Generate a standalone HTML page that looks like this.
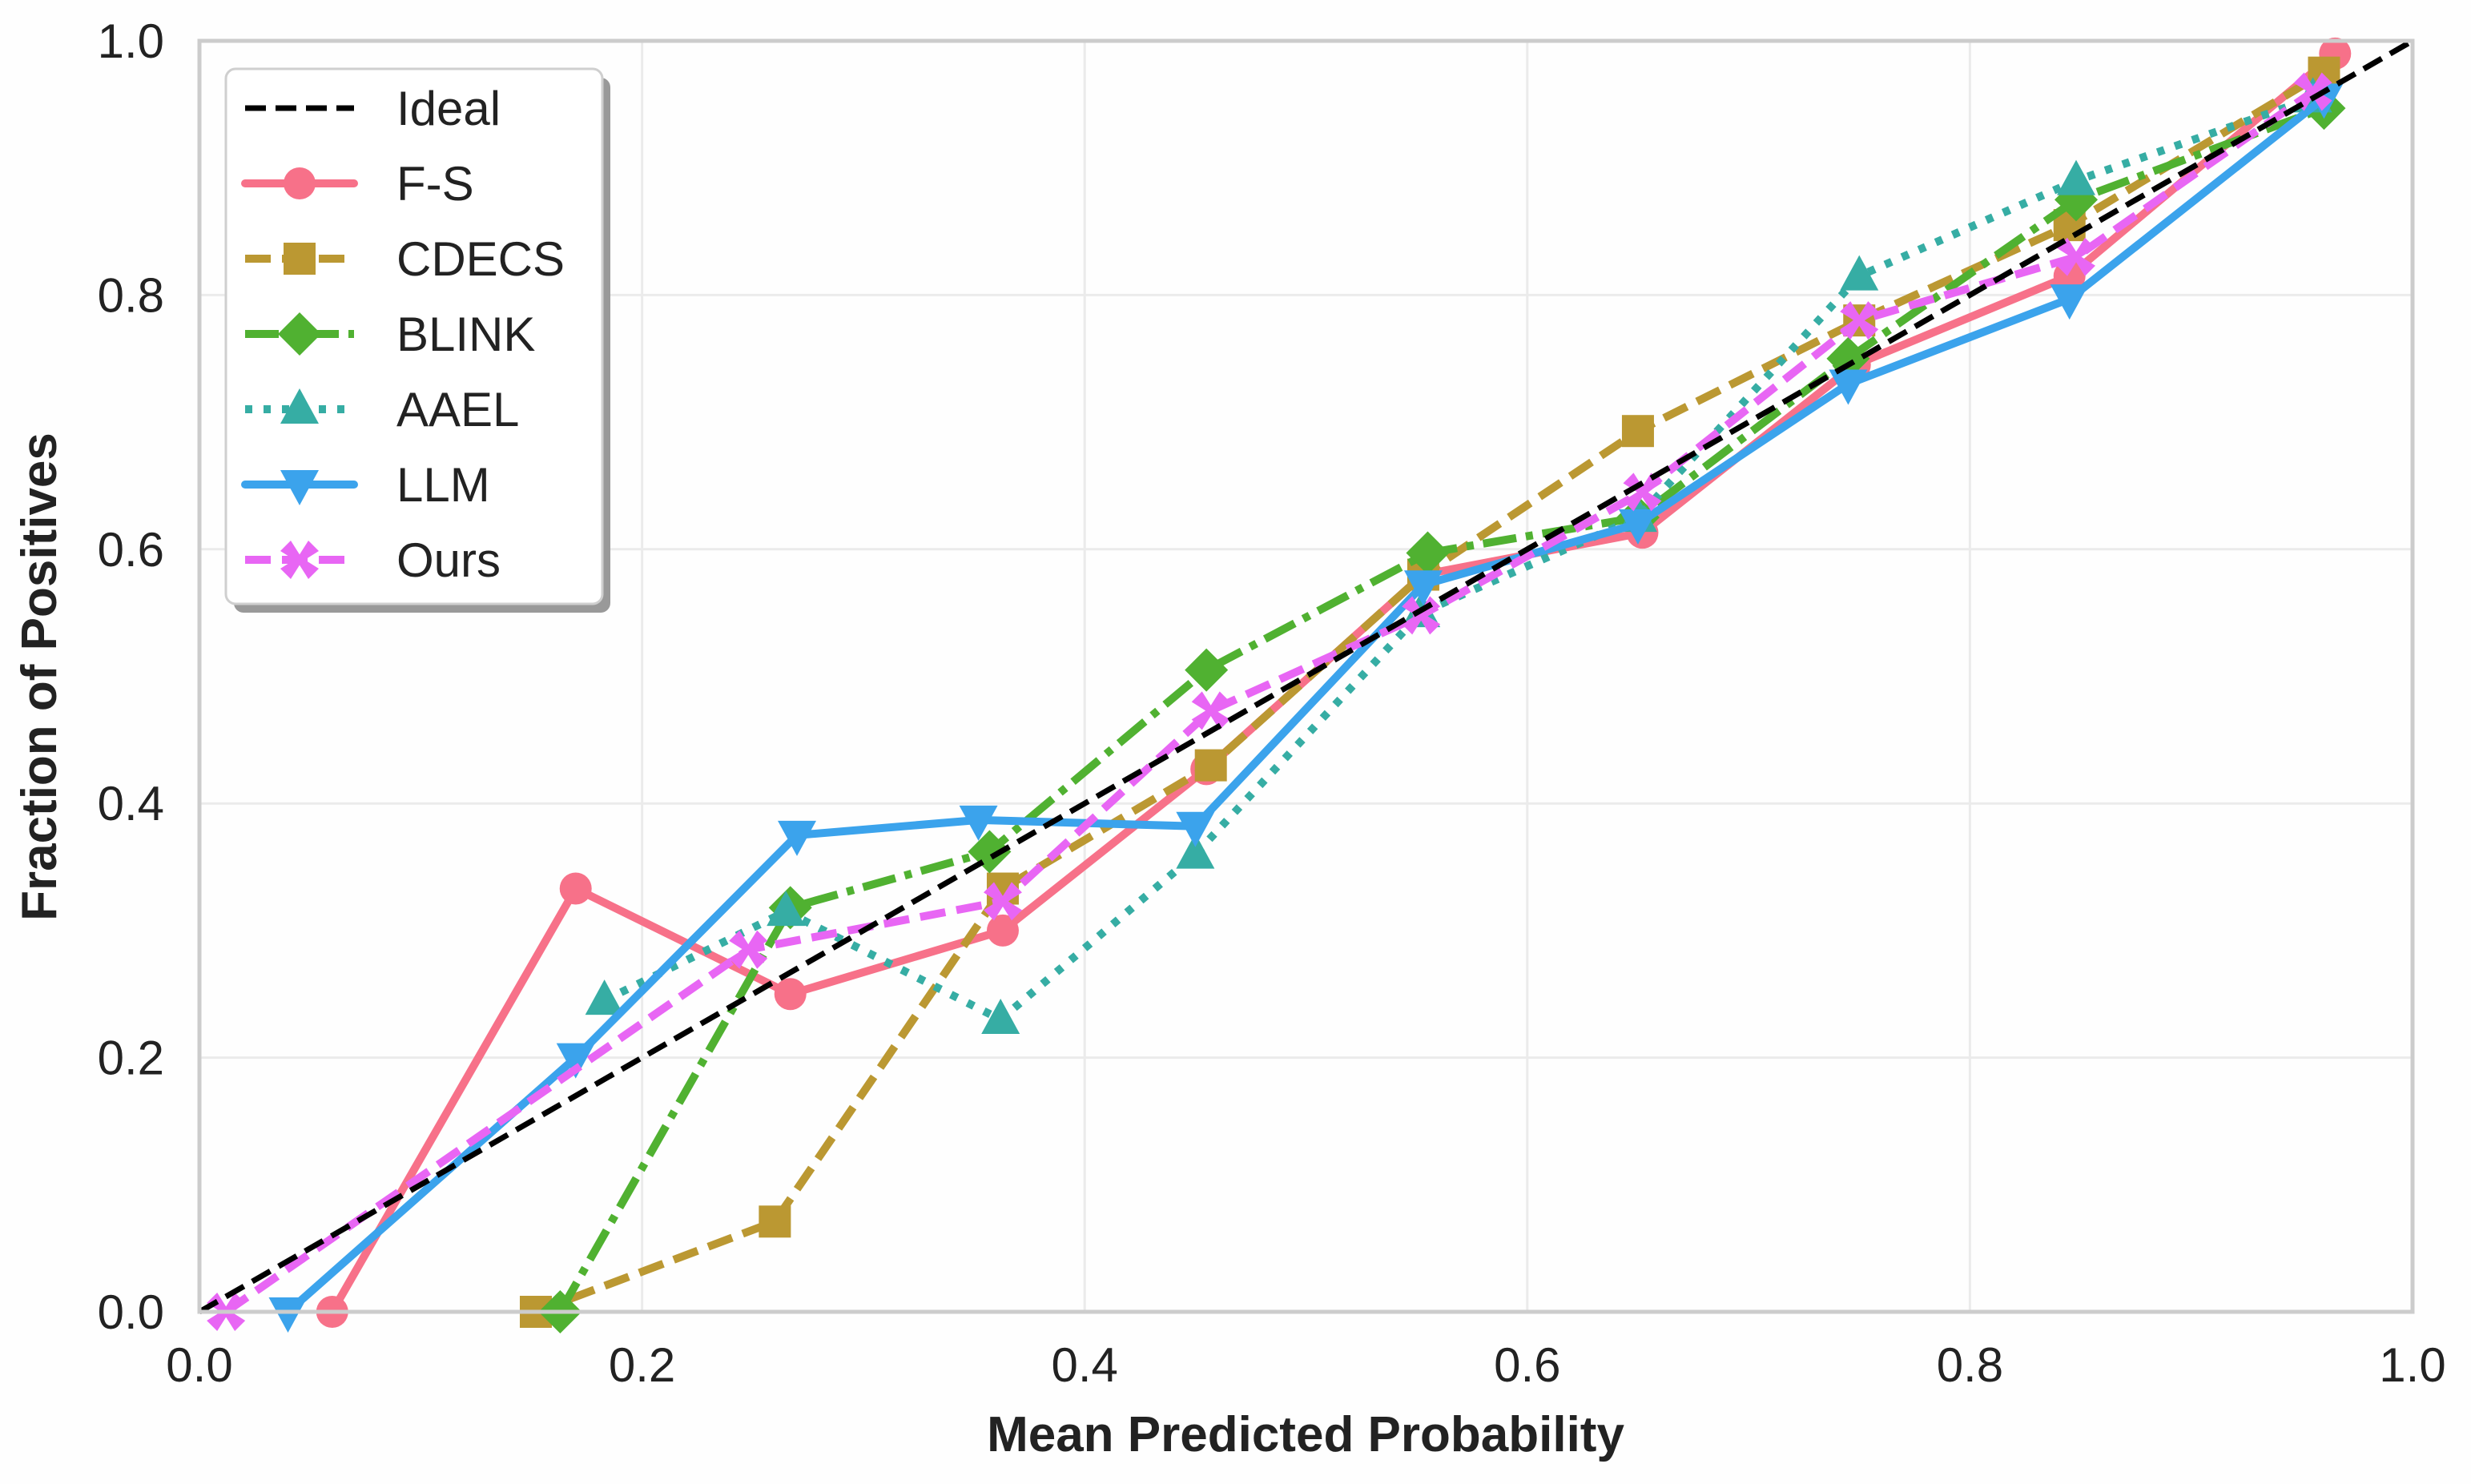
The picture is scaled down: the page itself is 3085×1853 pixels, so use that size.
<!DOCTYPE html>
<html><head><meta charset="utf-8">
<style>
html,body{margin:0;padding:0;background:#fefefe;}
svg{display:block;font-family:"Liberation Sans",Arial,sans-serif;}
</style></head>
<body>
<svg id="chart" width="3085" height="1853" viewBox="0 0 3085 1853" xmlns="http://www.w3.org/2000/svg">
<rect x="0" y="0" width="3085" height="1853" fill="#fefefe"/>
<g id="grid"></g>
<g id="series"></g>
<rect x="249" y="51" width="2763" height="1587" fill="none" stroke="#cccccc" stroke-width="5"/>
<g id="ticks"></g>
<text x="1630" y="1812" font-size="62" font-weight="bold" text-anchor="middle" fill="#222">Mean Predicted Probability</text>
<text transform="translate(70,845) rotate(-90)" font-size="62" font-weight="bold" text-anchor="middle" fill="#222">Fraction of Positives</text>
<g id="legend"></g>
</svg>
<script>
const ticks = [0, 0.2, 0.4, 0.6, 0.8, 1.0];
const tickLabels = ["0.0", "0.2", "0.4", "0.6", "0.8", "1.0"];
const idealX = [0, 1];
const idealY = [0, 1];
const fsX = [0.06, 0.17, 0.267, 0.363, 0.455, 0.553, 0.652, 0.748, 0.845, 0.965];
const fsY = [0, 0.333, 0.25, 0.30, 0.427, 0.58, 0.613, 0.745, 0.815, 0.99];
const cdecsX = [0.152, 0.26, 0.363, 0.457, 0.553, 0.65, 0.75, 0.845, 0.96];
const cdecsY = [0, 0.071, 0.333, 0.43, 0.58, 0.693, 0.78, 0.855, 0.975];
const blinkX = [0.163, 0.267, 0.357, 0.455, 0.555, 0.65, 0.745, 0.848, 0.96];
const blinkY = [0, 0.318, 0.362, 0.505, 0.597, 0.625, 0.75, 0.875, 0.947];
const aaelX = [0.183, 0.265, 0.362, 0.45, 0.552, 0.65, 0.75, 0.848, 0.955];
const aaelY = [0.245, 0.315, 0.23, 0.36, 0.55, 0.625, 0.815, 0.89, 0.955];
const llmX = [0.04, 0.17, 0.27, 0.352, 0.45, 0.553, 0.65, 0.745, 0.845, 0.96];
const llmY = [0, 0.2, 0.375, 0.387, 0.382, 0.572, 0.62, 0.73, 0.797, 0.955];
const oursX = [0.012, 0.248, 0.363, 0.457, 0.552, 0.652, 0.75, 0.848, 0.955];
const oursY = [0, 0.285, 0.323, 0.473, 0.548, 0.645, 0.78, 0.83, 0.96];

const L=249,R=3012,T=51,B=1638;
const sx=v=>L+v*(R-L), sy=v=>B-v*(B-T);
const NS="http://www.w3.org/2000/svg";
function mk(tag,attrs,parent){const e=document.createElementNS(NS,tag);for(const k in attrs)e.setAttribute(k,attrs[k]);parent.appendChild(e);return e;}
const grid=document.getElementById('grid'),tk=document.getElementById('ticks'),ser=document.getElementById('series'),leg=document.getElementById('legend');
ticks.forEach((t,i)=>{
  const gv=mk('line',{x1:sx(t),x2:sx(t),y1:T,y2:B,stroke:'#ebebeb','stroke-width':3},grid);
  
  
  const gh=mk('line',{x1:L,x2:R,y1:sy(t),y2:sy(t),stroke:'#ebebeb','stroke-width':3},grid);
  
  
  const xl=mk('text',{x:sx(t),y:1725,'font-size':60,'text-anchor':'middle',fill:'#222'},tk);
  xl.textContent=tickLabels[i];
  
  
  const yl=mk('text',{x:205,y:sy(t)+21,'font-size':60,'text-anchor':'end',fill:'#222'},tk);
  yl.textContent=tickLabels[i];
  
  
});
function marker(type,cx,cy,color,parent){
  const s=20;let e;
  if(type==='circle') e=mk('circle',{cx,cy,r:s,fill:color},parent);
  else if(type==='square') e=mk('rect',{x:cx-s,y:cy-s,width:2*s,height:2*s,fill:color},parent);
  else if(type==='diamond') e=mk('polygon',{points:`${cx},${cy-s*1.35} ${cx+s*1.35},${cy} ${cx},${cy+s*1.35} ${cx-s*1.35},${cy}`,fill:color},parent);
  else if(type==='tri') e=mk('polygon',{points:`${cx},${cy-s*1.3} ${cx+s*1.2},${cy+s*0.9} ${cx-s*1.2},${cy+s*0.9}`,fill:color},parent);
  else if(type==='tridown') e=mk('polygon',{points:`${cx},${cy+s*1.3} ${cx+s*1.2},${cy-s*0.9} ${cx-s*1.2},${cy-s*0.9}`,fill:color},parent);
  else if(type==='x'){const a=s*0.55,b=s*1.2;e=mk('polygon',{points:`${cx-b},${cy-a} ${cx-a},${cy-b} ${cx},${cy-a*0.6} ${cx+a},${cy-b} ${cx+b},${cy-a} ${cx+a*0.6},${cy} ${cx+b},${cy+a} ${cx+a},${cy+b} ${cx},${cy+a*0.6} ${cx-a},${cy+b} ${cx-b},${cy+a} ${cx-a*0.6},${cy}`,fill:color},parent);}
  return e;
}
const seriesDefs=[
 {name:'F-S',xs:fsX,ys:fsY,color:'#f77189',dash:'',m:'circle'},
 {name:'CDECS',xs:cdecsX,ys:cdecsY,color:'#bb9832',dash:'32,14',m:'square'},
 {name:'BLINK',xs:blinkX,ys:blinkY,color:'#50b131',dash:'42,12,9,12',m:'diamond'},
 {name:'AAEL',xs:aaelX,ys:aaelY,color:'#36ada4',dash:'9,14',m:'tri'},
 {name:'LLM',xs:llmX,ys:llmY,color:'#3ba3ec',dash:'',m:'tridown'},
 {name:'Ours',xs:oursX,ys:oursY,color:'#e866f4',dash:'32,14',m:'x'}
];
seriesDefs.forEach(s=>{
  const g=mk('g',{},ser);
  
  
  const pts=s.xs.map((x,i)=>sx(x)+','+sy(s.ys[i])).join(' ');
  const pl=mk('polyline',{points:pts,fill:'none',stroke:s.color,'stroke-width':10,'stroke-dasharray':s.dash,'stroke-linejoin':'round','stroke-linecap':s.dash?'butt':'round'},g);
  
  
  s.xs.forEach((x,i)=>{
    const m=marker(s.m,sx(x),sy(s.ys[i]),s.color,g);
    
    
  });
});
const ideal=mk('line',{x1:sx(idealX[0]),y1:sy(idealY[0]),x2:sx(idealX[1]),y2:sy(idealY[1]),stroke:'#000','stroke-width':7,'stroke-dasharray':'26,12'},ser);


mk('rect',{x:292,y:97,width:470,height:668,rx:12,fill:'#999'},leg);
const lb=mk('rect',{x:282,y:86,width:470,height:668,rx:12,fill:'#fff',stroke:'#cfcfcf','stroke-width':3},leg);


const entries=[{name:'Ideal',color:'#000',dash:'26,12',m:null}].concat(seriesDefs);
entries.forEach((s,i)=>{
  const y=135+i*94;
  const g=mk('g',{},leg);
  
  
  mk('line',{x1:306,x2:442,y1:y,y2:y,stroke:s.color,'stroke-width':s.m?10:7,'stroke-dasharray':s.dash,'stroke-linecap':s.dash?'butt':'round'},g);
  if(s.m) marker(s.m,374,y,s.color,g);
  const t=mk('text',{x:495,y:y+21,'font-size':60,fill:'#222'},g);
  t.textContent=s.name;
});
</script>
</body></html>
